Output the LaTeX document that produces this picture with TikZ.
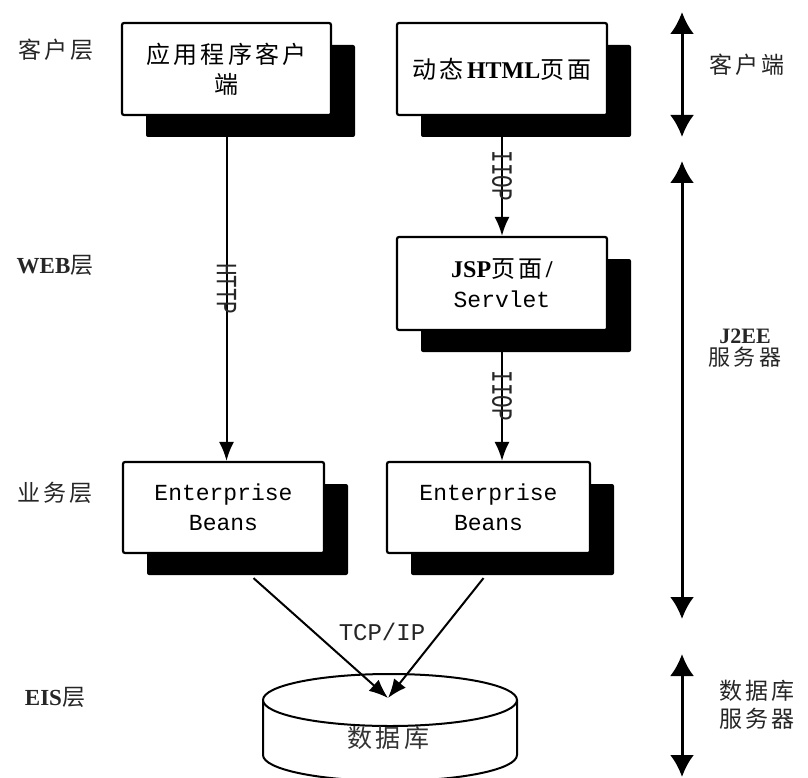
\documentclass[tikz,border=0pt]{standalone}
\usepackage{fontspec}
\setmainfont{Liberation Serif}
\newfontfamily\cjk[LetterSpace=14]{Noto Sans CJK SC}
\newfontfamily\mono{Liberation Mono}
\usetikzlibrary{shadows,arrows.meta}
\begin{document}
\begin{tikzpicture}[x=1pt,y=-1pt,
  box/.style={draw=black, line width=2.2pt, fill=white, rounded corners=2pt,
    align=center, inner sep=0pt, font=\fontsize{24}{30}\selectfont,
    drop shadow={fill=black, opacity=1, shadow xshift=24pt, shadow yshift=-22pt, rounded corners=2pt}},
  conn/.style={line width=2pt, -{Latex[length=19pt,width=15pt]}},
  side/.style={line width=3pt, {Latex[length=22pt,width=24pt]}-{Latex[length=22pt,width=24pt]}},
  lbl/.style={font=\fontsize{23}{28}\selectfont, text=black!85, align=center, inner sep=0pt},
  proto/.style={font=\mono\fontsize{21}{21}\selectfont, rotate=-90, inner sep=0pt, text=black!85},
  ebtext/.style={font=\mono\fontsize{23}{30}\selectfont}
]
\useasboundingbox (0,0) rectangle (808,778);
\clip (0,0) rectangle (808,778);
\fill[white] (0,0) rectangle (808,778);

% left tier labels
\node[lbl] (l1) at (56,50) {\cjk 客户层};
\node[lbl] (l2) at (55,265) {\textbf{WEB}\cjk 层};
\node[lbl] (l3) at (55,493) {\cjk 业务层};
\node[lbl] (l4) at (55,697) {\textbf{EIS}\cjk 层};

% boxes
\node[box, minimum width=209pt, minimum height=92pt] (b1) at (226.5,69) {\cjk 应用程序客户\\\cjk 端};
\node[box, minimum width=210pt, minimum height=92pt] (b2) at (502,69) {{\cjk 动态}\textbf{HTML}{\cjk 页面}};
\node[box, minimum width=210pt, minimum height=93pt] (b3) at (502,283.5) {\textbf{JSP}{\cjk 页面}\textbf{/}\\{\mono\fontsize{23}{30}\selectfont Servlet}};
\node[box, minimum width=201pt, minimum height=91pt, ebtext] (b4) at (223.5,507.5) {Enterprise\\Beans};
\node[box, minimum width=203pt, minimum height=91pt, ebtext] (b5) at (488.5,507.5) {Enterprise\\Beans};

% database cylinder
\filldraw[line width=2pt, fill=white] (263,700) -- (263,755)
  arc[start angle=180, end angle=360, x radius=127pt, y radius=26pt] -- (517,700);
\draw[line width=2pt, fill=white] (390,700) ellipse[x radius=127pt, y radius=26pt];
\node[font=\fontsize{25}{30}\selectfont, text=black!80] (db) at (388,738) {\cjk 数据库};
\coordinate (dbtop) at (388,698);

% connectors
\draw[conn] (b1.south) -- node[proto, pos=0.5] {\scalebox{1}[1.4]{HTTP}} (b1.south |- b4.north);
\draw[conn] (b2.south) -- node[proto, pos=0.5] {\scalebox{1}[1.4]{IIOP}} (b3.north);
\draw[conn] (b3.south) -- node[proto, pos=0.5] {\scalebox{1}[1.4]{IIOP}} (b3.south |- b5.north);
\draw[conn] ([shift={(30,24)}]b4.south) -- (dbtop);
\draw[conn] ([shift={(-5,24)}]b5.south) -- (dbtop);
\node[font=\mono\fontsize{24}{24}\selectfont, text=black!85] (tcp) at (382,632) {TCP/IP};

% right side ranges
\coordinate (r1a) at (682,12);
\coordinate (r1b) at (682,137);
\coordinate (r2a) at (682,161);
\coordinate (r2b) at (682,619);
\coordinate (r3a) at (682,654);
\coordinate (r3b) at (682,777);
\draw[side] (r1a) -- (r1b);
\draw[side] (r2a) -- (r2b);
\draw[side] (r3a) -- (r3b);
\node[lbl] (t1) at (747,65) {\cjk 客户端};
\node[lbl, font=\fontsize{22}{22}\selectfont] (t2) at (745,348) {\textbf{J2EE}\\\cjk 服务器};
\node[lbl, anchor=west, align=left] (t3) at (719,705) {\cjk 数据库\\\cjk 服务器};
\end{tikzpicture}
\end{document}
